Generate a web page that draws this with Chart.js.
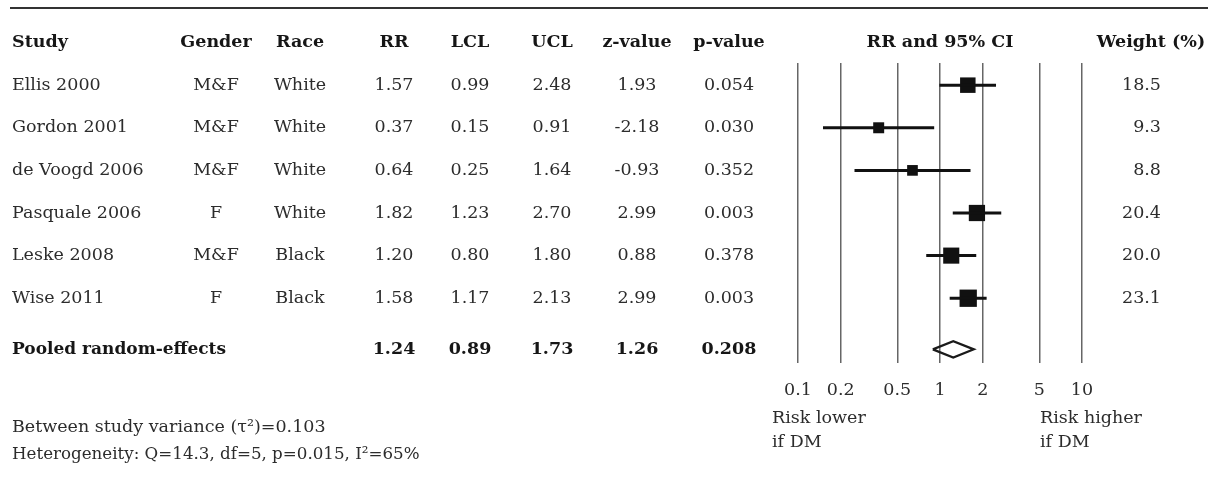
<!DOCTYPE html>
<html>
<head>
<meta charset="utf-8">
<script src="https://cdn.jsdelivr.net/npm/chart.js@4.4.0/dist/chart.umd.min.js"></script>
<style>
  html, body { margin: 0; padding: 0; background: #fff; }
</style>
</head>
<body>
<canvas id="forest" width="1213" height="477"></canvas>
<script>
// Study data
const studies = ["Ellis 2000", "Gordon 2001", "de Voogd 2006", "Pasquale 2006", "Leske 2008", "Wise 2011"];
const genders = ["M&F", "M&F", "M&F", "F", "M&F", "F"];
const races = ["White", "White", "White", "White", "Black", "Black"];
const rr = [1.57, 0.37, 0.64, 1.82, 1.20, 1.58];
const lcl = [0.99, 0.15, 0.25, 1.23, 0.80, 1.17];
const ucl = [2.48, 0.91, 1.64, 2.70, 1.80, 2.13];
const zValues = ["1.93", "-2.18", "-0.93", "2.99", "0.88", "2.99"];
const pValues = ["0.054", "0.030", "0.352", "0.003", "0.378", "0.003"];
const weights = [18.5, 9.3, 8.8, 20.4, 20.0, 23.1];

// Pooled random-effects estimate
const pooledRR = 1.24;
const pooledLCL = 0.89;
const pooledUCL = 1.73;
const pooledZ = "1.26";
const pooledP = "0.208";

// Log axis ticks
const xTicks = [0.1, 0.2, 0.5, 1, 2, 5, 10];

const fmt2 = v => v.toFixed(2);
const pooledRow = 6.2;
const FONT = '"DejaVu Serif", serif';
const SIZE = 17.5;
const TEXT = "#2c2c2c";
const DARK = "#161616";

// whisker lines, one dataset per study
const whiskers = studies.map((s, i) => ({
  data: [{ x: lcl[i], y: i }, { x: ucl[i], y: i }],
  showLine: true,
  borderColor: "#111",
  borderWidth: 3,
  pointRadius: 0
}));

// squares sized by weight
const squares = {
  data: rr.map((v, i) => ({ x: v, y: i })),
  pointStyle: "rect",
  pointRadius: weights.map(w => 3.6 * Math.sqrt(w) / Math.SQRT2),
  backgroundColor: "#111",
  borderWidth: 0
};

// pooled diamond
const diamond = {
  data: [
    { x: pooledLCL, y: pooledRow },
    { x: pooledRR, y: pooledRow - 0.19 },
    { x: pooledUCL, y: pooledRow },
    { x: pooledRR, y: pooledRow + 0.19 },
    { x: pooledLCL, y: pooledRow }
  ],
  showLine: true,
  tension: 0,
  fill: true,
  backgroundColor: "#fff",
  borderColor: "#1a1a1a",
  borderWidth: 2.2,
  pointRadius: 0
};

function text(ctx, str, x, y, align, bold, size) {
  ctx.font = (bold ? "bold " : "") + (size || SIZE) + "px " + FONT;
  ctx.textAlign = align;
  ctx.textBaseline = "middle";
  ctx.fillStyle = bold ? DARK : TEXT;
  ctx.fillText(str, x, y);
}

const tablePlugin = {
  id: "table",
  beforeDraw(chart) {
    const ctx = chart.ctx;
    ctx.save();
    ctx.fillStyle = "#fff";
    ctx.fillRect(0, 0, chart.width, chart.height);
    // top rule
    ctx.strokeStyle = "#333";
    ctx.lineWidth = 2;
    ctx.beginPath();
    ctx.moveTo(10, 8);
    ctx.lineTo(1208, 8);
    ctx.stroke();
    ctx.restore();
  },
  afterDraw(chart) {
    const ctx = chart.ctx;
    const ys = chart.scales.y;
    const xs = chart.scales.x;
    const col = { gender: 216, race: 300, rr: 394, lcl: 470, ucl: 552, z: 637, p: 729, w: 1161 };
    ctx.save();

    // header
    const hy = ys.getPixelForValue(-1);
    text(ctx, "Study", 12, hy, "left", true);
    text(ctx, "Gender", col.gender, hy, "center", true);
    text(ctx, "Race", col.race, hy, "center", true);
    text(ctx, "RR", col.rr, hy, "center", true);
    text(ctx, "LCL", col.lcl, hy, "center", true);
    text(ctx, "UCL", col.ucl, hy, "center", true);
    text(ctx, "z-value", col.z, hy, "center", true);
    text(ctx, "p-value", col.p, hy, "center", true);
    text(ctx, "RR and 95% CI", xs.getPixelForValue(1), hy, "center", true);
    text(ctx, "Weight (%)", 1151, hy, "center", true);

    // study rows
    studies.forEach((s, i) => {
      const y = ys.getPixelForValue(i);
      text(ctx, s, 12, y, "left");
      text(ctx, genders[i], col.gender, y, "center");
      text(ctx, races[i], col.race, y, "center");
      text(ctx, fmt2(rr[i]), col.rr, y, "center");
      text(ctx, fmt2(lcl[i]), col.lcl, y, "center");
      text(ctx, fmt2(ucl[i]), col.ucl, y, "center");
      text(ctx, zValues[i], col.z, y, "center");
      text(ctx, pValues[i], col.p, y, "center");
      text(ctx, weights[i].toFixed(1), col.w, y, "right");
    });

    // pooled row
    const py = ys.getPixelForValue(pooledRow);
    text(ctx, "Pooled random-effects", 12, py, "left", true, 17);
    text(ctx, fmt2(pooledRR), col.rr, py, "center", true);
    text(ctx, fmt2(pooledLCL), col.lcl, py, "center", true);
    text(ctx, fmt2(pooledUCL), col.ucl, py, "center", true);
    text(ctx, pooledZ, col.z, py, "center", true);
    text(ctx, pooledP, col.p, py, "center", true);

    // axis captions
    text(ctx, "Risk lower", 772, 418, "left");
    text(ctx, "if DM", 772, 442, "left");
    text(ctx, "Risk higher", 1040, 418, "left");
    text(ctx, "if DM", 1040, 442, "left");

    // footnotes
    text(ctx, "Between study variance (\u03c4\u00b2)=0.103", 12, 427, "left");
    text(ctx, "Heterogeneity: Q=14.3, df=5, p=0.015, I\u00b2=65%", 12, 455, "left", false, 16.7);
    ctx.restore();
  }
};

new Chart(document.getElementById("forest").getContext("2d"), {
  type: "scatter",
  data: { datasets: [...whiskers, squares, diamond] },
  options: {
    responsive: false,
    animation: false,
    layout: { padding: { left: 798, right: 131, top: 63, bottom: 0 } },
    plugins: { legend: { display: false }, tooltip: { enabled: false } },
    scales: {
      x: {
        type: "logarithmic",
        min: 0.1,
        max: 10,
        afterBuildTicks: s => { s.ticks = xTicks.map(v => ({ value: v })); },
        afterFit: s => { s.height = 114; },
        ticks: {
          callback: v => String(v),
          autoSkip: false,
          maxRotation: 0,
          padding: 17,
          color: TEXT,
          font: { family: FONT, size: SIZE }
        },
        grid: { color: "#666", lineWidth: 1.5, drawTicks: false },
        border: { display: false }
      },
      y: {
        type: "linear",
        min: -0.52,
        max: 6.52,
        reverse: true,
        display: false
      }
    }
  },
  plugins: [tablePlugin]
});
</script>
</body>
</html>
